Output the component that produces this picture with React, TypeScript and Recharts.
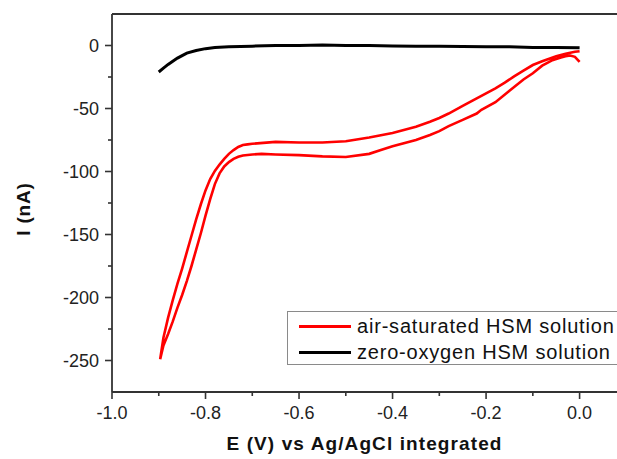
import { LineChart, Line, XAxis, YAxis, ReferenceLine } from "recharts";

// air-saturated HSM: sweep from 0.0 V down to -0.9 V (upper branch) ...
const airUpperE = [
  0.0, -0.01, -0.03, -0.05, -0.08, -0.1, -0.12, -0.14, -0.16, -0.18, -0.2, -0.22, -0.25,
  -0.28, -0.3, -0.32, -0.35, -0.4, -0.45, -0.5, -0.55, -0.6, -0.65, -0.7, -0.71, -0.72,
  -0.73, -0.74, -0.75, -0.76, -0.77, -0.78, -0.79, -0.8, -0.81, -0.82, -0.83, -0.84,
  -0.85, -0.86, -0.87, -0.88, -0.89, -0.897,
];
const airUpperI = [
  -4.5, -5, -6.5, -8.5, -12.5, -15.5, -20, -24.5, -29.5, -34, -38, -42, -48,
  -54, -57.5, -60.5, -64.5, -69.5, -73, -76, -77, -77, -76.5, -78, -78.5, -79,
  -80.5, -83, -86, -90, -94.5, -99.5, -106, -115, -126, -138, -151, -164,
  -177, -189, -202, -216, -232, -249,
];
// ... and back from -0.9 V to 0.0 V (lower branch)
const airLowerE = [
  -0.89, -0.88, -0.87, -0.86, -0.85, -0.84, -0.83, -0.82, -0.81, -0.8, -0.79, -0.78,
  -0.77, -0.76, -0.75, -0.74, -0.73, -0.72, -0.7, -0.68, -0.65, -0.6, -0.55, -0.5, -0.45,
  -0.425, -0.4, -0.35, -0.32, -0.3, -0.28, -0.25, -0.22, -0.21, -0.18, -0.15, -0.14,
  -0.12, -0.1, -0.08, -0.06, -0.04, -0.03, -0.02, -0.01, 0.0,
];
const airLowerI = [
  -238, -229, -219, -208, -198, -187, -175, -162, -149, -135, -122, -110,
  -101.5, -96, -92.5, -90, -88.3, -87.3, -86.5, -86, -86.5, -87, -88, -88.5, -86,
  -83, -80, -75, -71, -68, -64, -59, -54, -51, -45, -36, -33,
  -27, -22, -16, -12, -9.5, -8.5, -8, -9, -13,
];

// zero-oxygen HSM
const zeroE = [
  -0.9, -0.89, -0.88, -0.87, -0.86, -0.85, -0.84, -0.82, -0.8, -0.78, -0.75, -0.7,
  -0.65, -0.6, -0.55, -0.5, -0.45, -0.4, -0.35, -0.3, -0.25, -0.2, -0.15, -0.1, -0.05, 0.0,
];
const zeroI = [
  -21, -18, -15, -12.5, -10, -8, -6, -4, -2.5, -1.5, -1, -0.5,
  0, 0, 0.3, 0, 0, -0.3, -0.5, -0.5, -0.8, -1, -1, -1.5, -1.5, -1.8,
];

const xTicks = [-1.0, -0.9, -0.8, -0.7, -0.6, -0.5, -0.4, -0.3, -0.2, -0.1, 0.0];
const yTicks = [-250, -225, -200, -175, -150, -125, -100, -75, -50, -25, 0];

const seriesNames = ["air-saturated HSM solution", "zero-oxygen HSM solution"];
const seriesColors = ["#ff0000", "#000000"];

const airData = [
  ...airUpperE.map((e, i) => ({ x: e, y: airUpperI[i] })),
  ...airLowerE.map((e, i) => ({ x: e, y: airLowerI[i] })),
];
const zeroData = zeroE.map((e, i) => ({ x: e, y: zeroI[i] }));

const FONT = '"Liberation Sans", Arial, sans-serif';
const AXIS = "#333";

const XTick = (props: any) => {
  const { x, y, payload, index } = props;
  const major = index % 2 === 0;
  return (
    <g>
      <line x1={x} x2={x} y1={y} y2={y + (major ? 7 : 4)} stroke={AXIS} strokeWidth={1.6} />
      {major && (
        <text x={x} y={y + 27} textAnchor="middle" fontSize={18} fill="#222" fontFamily={FONT}>
          {Number(payload.value).toFixed(1)}
        </text>
      )}
    </g>
  );
};

const YTick = (props: any) => {
  const { x, y, payload, index } = props;
  const major = index % 2 === 0;
  return (
    <g>
      <line x1={x - (major ? 7 : 4)} x2={x} y1={y} y2={y} stroke={AXIS} strokeWidth={1.6} />
      {major && (
        <text x={x - 13} y={y} dy="0.36em" textAnchor="end" fontSize={18} fill="#222" fontFamily={FONT}>
          {payload.value}
        </text>
      )}
    </g>
  );
};

const YTitle = (props: any) => {
  const { x, y, height } = props.viewBox;
  const cx = x + 23;
  const cy = y + height / 2 + 6;
  return (
    <text
      x={cx}
      y={cy}
      transform={`rotate(-90 ${cx} ${cy})`}
      textAnchor="middle"
      dominantBaseline="central"
      fontSize={19}
      fontWeight="bold"
      fill="#111"
      fontFamily={FONT}
      letterSpacing={0.8}
    >
      I (nA)
    </text>
  );
};

export default function App() {
  return (
    <div style={{ position: "absolute", left: 0, top: 0, width: 617, height: 459, overflow: "hidden", background: "#fff" }}>
      <style>{"html,body{margin:0;overflow:hidden;}"}</style>
      {/* the original plot frame runs past the right edge of the picture */}
      <LineChart width={617} height={459} margin={{ top: 14, right: 0, bottom: 0, left: 0 }}>
        <XAxis
          dataKey="x"
          type="number"
          domain={[-1.0, 0.08]}
          allowDataOverflow
          ticks={xTicks}
          interval={0}
          tickSize={0}
          tickMargin={0}
          tick={<XTick />}
          height={67}
          axisLine={{ stroke: AXIS, strokeWidth: 1.8 }}
          label={{
            value: "E (V) vs Ag/AgCl integrated",
            position: "insideBottom",
            offset: 9,
            style: { fontSize: 19, fontWeight: "bold", fill: "#111", fontFamily: FONT, letterSpacing: 1.1 },
          }}
        />
        <YAxis
          type="number"
          domain={[-275, 25]}
          ticks={yTicks}
          interval={0}
          tickSize={0}
          tickMargin={0}
          tick={<YTick />}
          width={112}
          axisLine={{ stroke: AXIS, strokeWidth: 1.8 }}
          label={{ content: <YTitle /> }}
        />
        <ReferenceLine y={25} stroke={AXIS} strokeWidth={1.8} />
        <Line
          data={zeroData}
          dataKey="y"
          type="linear"
          stroke={seriesColors[1]}
          strokeWidth={3}
          dot={false}
          isAnimationActive={false}
        />
        <Line
          data={airData}
          dataKey="y"
          type="linear"
          stroke={seriesColors[0]}
          strokeWidth={2.6}
          dot={false}
          isAnimationActive={false}
        />
      </LineChart>
      <div
        style={{
          position: "absolute",
          left: 287,
          top: 311,
          width: 350,
          height: 52,
          border: "1px solid #8a8a8a",
          background: "#fff",
          fontFamily: FONT,
          fontSize: 20,
          letterSpacing: 0.8,
          color: "#111",
        }}
      >
        {seriesNames.map((name, i) => (
          <div key={name} style={{ display: "flex", alignItems: "center", height: 26, marginTop: i === 0 ? 1 : 0 }}>
            <div style={{ marginLeft: 11, width: 52, height: 3, background: seriesColors[i] }} />
            <span style={{ marginLeft: 6, whiteSpace: "nowrap", lineHeight: "26px" }}>{name}</span>
          </div>
        ))}
      </div>
    </div>
  );
}
